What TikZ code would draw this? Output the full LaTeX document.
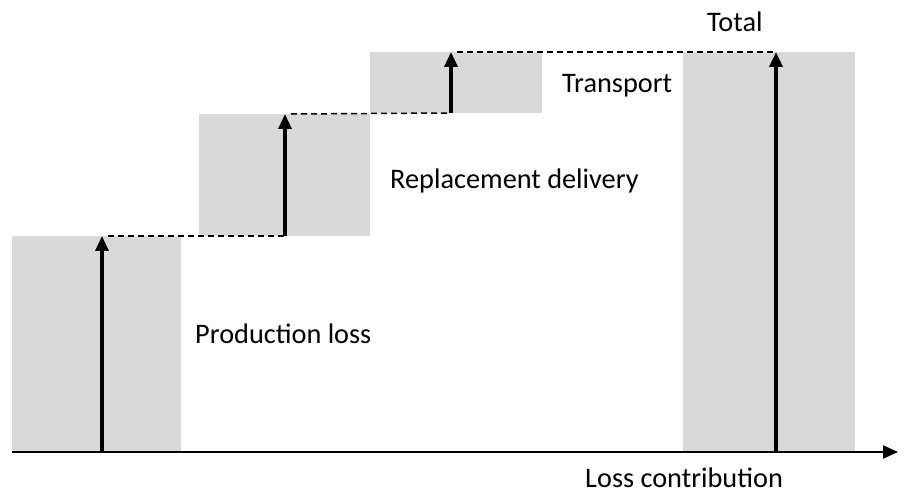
\documentclass[tikz,border=0pt]{standalone}
\usepackage{fontspec}
\setmainfont{Carlito}
\usetikzlibrary{arrows.meta}
\definecolor{boxgray}{HTML}{D9D9D9}
\tikzset{
  bar/.style={fill=boxgray, draw=none},
  uparrow/.style={line width=3.4pt, -{Triangle[width=13pt,length=15pt]}},
  guide/.style={line width=1.5pt, dashed, dash pattern=on 6pt off 4pt},
  axisline/.style={line width=2pt, -{Triangle[width=13pt,length=15pt]}},
  lbl/.style={font=\fontsize{28.3}{34}\selectfont, inner sep=0pt, anchor=base west}
}
\begin{document}
\begin{tikzpicture}[x=1pt,y=-1pt]
\useasboundingbox (0,0) rectangle (906,494);
% bars
\fill[bar] (12,236) rectangle (181,452);
\fill[bar] (199,114) rectangle (370,236);
\fill[bar] (370,52) rectangle (542,113);
\fill[bar] (683,52) rectangle (855,452);
% coordinates
\coordinate (a1s) at (102,452); \coordinate (a1e) at (102,236);
\coordinate (a2s) at (285,236); \coordinate (a2e) at (285,114);
\coordinate (a3s) at (451,113); \coordinate (a3e) at (451,52);
\coordinate (a4s) at (776,452); \coordinate (a4e) at (776,52);
\coordinate (ax0) at (12,452); \coordinate (ax1) at (898,452);
% dashed guides
\draw[guide] (a1e) ++(6,0) -- (a2s);
\draw[guide] (a2e) ++(6,0) -- (a3s);
\draw[guide] (a3e) ++(6,0) -- (a4e);
% axis
\draw[axisline] (ax0) -- (ax1);
% arrows
\draw[uparrow] (a1s) -- (a1e);
\draw[uparrow] (a2s) -- (a2e);
\draw[uparrow] (a3s) -- (a3e);
\draw[uparrow] (a4s) -- (a4e);
% labels
\node[lbl] (total) at (707,32) {Total};
\node[lbl] (transport) at (562,93) {Transport};
\node[lbl] (repl) at (390,189) {Replacement delivery};
\node[lbl] (prod) at (195,344) {Production loss};
\node[lbl] (loss) at (585,488) {Loss contribution};
\end{tikzpicture}
\end{document}
